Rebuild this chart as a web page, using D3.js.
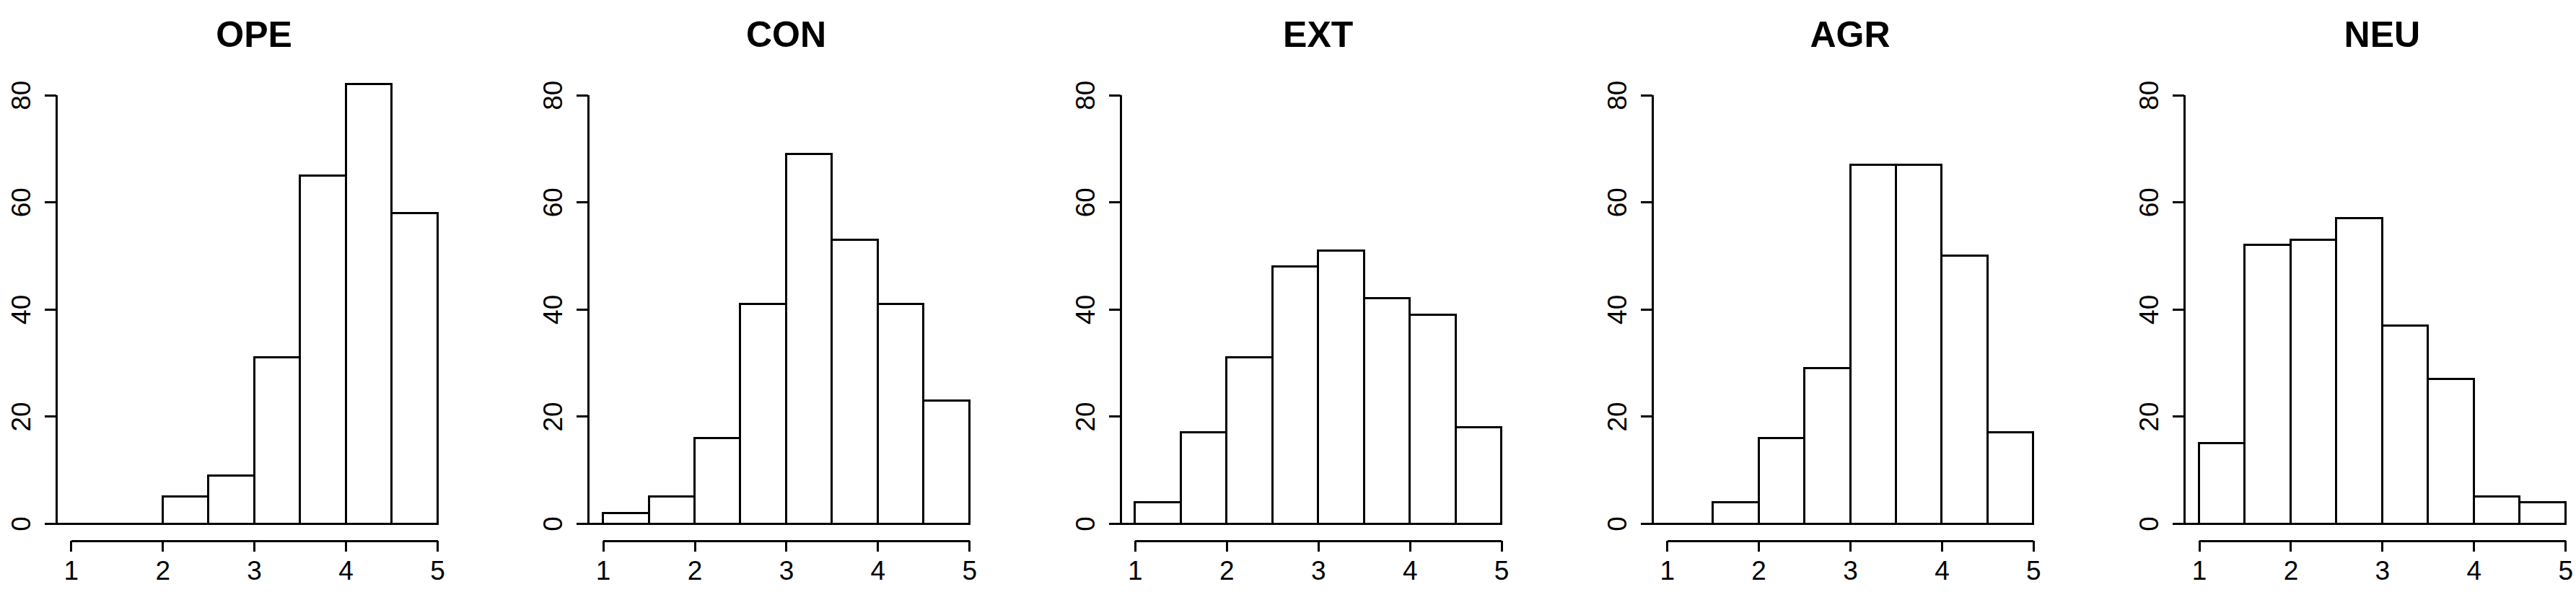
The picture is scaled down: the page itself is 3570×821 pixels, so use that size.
<!DOCTYPE html>
<html>
<head>
<meta charset="utf-8">
<script src="https://cdnjs.cloudflare.com/ajax/libs/d3/7.8.5/d3.min.js"></script>
<style>
  body { margin: 0; background: #fff; }
  svg { display: block; }
  text { font-family: "Liberation Sans", Arial, sans-serif; fill: #000; }
</style>
</head>
<body>
<div id="hists"></div>
<script>
// five histograms of the trait scores, drawn like base R hist()

var width = 3570,
    height = 821;

// data
var titles = ["OPE", "CON", "EXT", "AGR", "NEU"];
var breaks = [1, 1.5, 2, 2.5, 3, 3.5, 4, 4.5, 5];
var ope = [0, 0, 5, 9, 31, 65, 82, 58];
var con = [2, 5, 16, 41, 69, 53, 41, 23];
var ext = [4, 17, 31, 48, 51, 42, 39, 18];
var agr = [0, 4, 16, 29, 67, 67, 50, 17];
var neu = [15, 52, 53, 57, 37, 27, 5, 4];
var xTicks = [1, 2, 3, 4, 5];
var yTicks = [0, 20, 40, 60, 80];

var counts = [ope, con, ext, agr, neu];

var panelStep = 737.3;

var svg = d3.select("#hists").append("svg")
    .attr("width", width)
    .attr("height", height);

var y = d3.scaleLinear()
    .domain([0, 80])
    .range([726, 131.7]);

counts.forEach(function(vals, i) {
  var g = svg.append("g")
    .attr("transform", "translate(" + (i * panelStep) + ",0)");

  var x = d3.scaleLinear()
    .domain([1, 5])
    .range([98.3, 606]);

  // plot region is the axis range padded by 4% each side, like R
  var plotLeft = x(0.84),
      plotRight = x(5.16);

  // title
  g.append("text")
    .attr("x", (plotLeft + plotRight) / 2)
    .attr("y", 65)
    .attr("text-anchor", "middle")
    .style("font-size", "50px")
    .style("font-weight", "bold")
    .text(titles[i]);

  // baseline from the zero tick to the last break
  g.append("line")
    .attr("x1", plotLeft - 16)
    .attr("x2", x(breaks[breaks.length - 1]))
    .attr("y1", y(0))
    .attr("y2", y(0))
    .style("stroke", "#000")
    .style("stroke-width", 3)
    .style("shape-rendering", "crispEdges");

  // bars (paths so empty bins still draw a line)
  var bins = vals.map(function(v, j) {
    return { x0: breaks[j], x1: breaks[j + 1], n: v };
  });

  g.selectAll(".bar")
    .data(bins)
    .enter().append("path")
    .attr("class", "bar")
    .attr("d", function(d) {
      var p = d3.path();
      p.rect(x(d.x0), y(d.n), x(d.x1) - x(d.x0), y(0) - y(d.n));
      return p.toString();
    })
    .style("fill", "#fff")
    .style("stroke", "#000")
    .style("stroke-width", 3)
    .style("shape-rendering", "crispEdges");

  // y axis at the left of the plot region
  var yAxis = g.append("g")
    .attr("transform", "translate(" + plotLeft + ",0)")
    .call(d3.axisLeft(y).tickValues(yTicks).tickSize(16).tickSizeOuter(0));

  yAxis.selectAll("path, line")
    .style("stroke", "#000")
    .style("stroke-width", 3)
    .style("shape-rendering", "crispEdges");

  yAxis.selectAll("text")
    .attr("x", null)
    .attr("dy", null)
    .attr("transform", "translate(-36,0) rotate(-90)")
    .attr("text-anchor", "middle")
    .style("font-size", "37px")
    .attr("font-family", null);

  // x axis below the plot region
  var xAxis = g.append("g")
    .attr("transform", "translate(0,750)")
    .call(d3.axisBottom(x).tickValues(xTicks).tickFormat(d3.format("d")).tickSize(15).tickSizeOuter(0));

  xAxis.selectAll("path, line")
    .style("stroke", "#000")
    .style("stroke-width", 3)
    .style("shape-rendering", "crispEdges");

  xAxis.selectAll("text")
    .attr("y", 54)
    .attr("dy", null)
    .style("font-size", "37px")
    .attr("font-family", null);

  g.selectAll(".domain").style("fill", "none");
});
</script>
</body>
</html>
